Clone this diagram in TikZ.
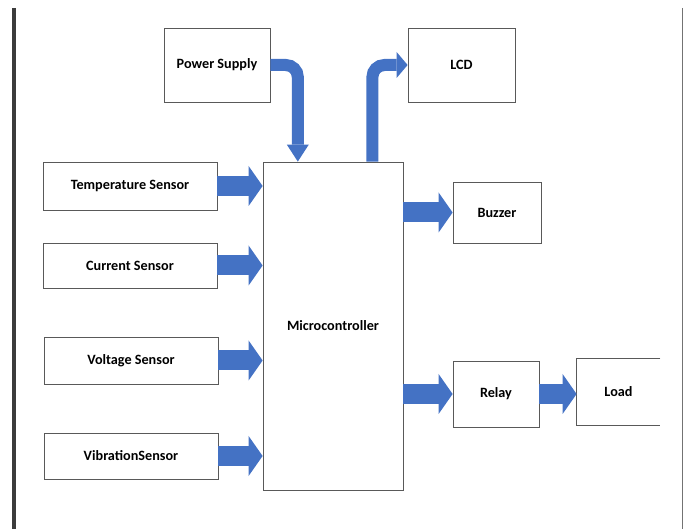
\documentclass[tikz,border=0pt]{standalone}
\usepackage{fontspec}
\setmainfont{Carlito}
\definecolor{arrowblue}{HTML}{4472C4}
\definecolor{framegray}{HTML}{3C3C3C}
\usetikzlibrary{arrows.meta, calc, positioning}

\begin{document}
\begin{tikzpicture}[x=1pt, y=-1pt,
	box/.style={draw=black!65, line width=0.8pt, fill=white, inner sep=0pt,
		font=\fontsize{14.2}{17}\selectfont\bfseries},
	blockarrow/.style={draw=arrowblue, line width=20pt,
		-{Triangle[length=14pt, width=40pt, line width=0pt]}},
	bentarrow/.style={draw=arrowblue, line width=12pt, rounded corners=12pt}]
	
	\useasboundingbox (0,0) rectangle (686,529);
	
	% Frame
	\draw[framegray, line width=3.5pt] (14,8) -- (14,529);
	\draw[black!55, line width=1pt] (682,8) -- (682,529);
	
	% Blocks
	\node[box, minimum width=140pt, minimum height=328pt] (mc) at (333,326) {Microcontroller};
	\node[box, minimum width=106pt, minimum height=74pt] (ps) at (217,65) {Power Supply};
	\node[box, minimum width=107pt, minimum height=74pt] (lcd) at (461.5,65) {LCD};
	\node[box, minimum width=174pt, minimum height=48pt] (temp) at (130,186) {Temperature Sensor};
	\node[box, minimum width=174pt, minimum height=45pt] (curr) at (130,265.5) {Current Sensor};
	\node[box, minimum width=174pt, minimum height=47pt] (volt) at (131,360.5) {Voltage Sensor};
	\node[box, minimum width=174pt, minimum height=46pt] (vib) at (131,456) {VibrationSensor};
	\node[box, minimum width=88pt, minimum height=61pt] (buz) at (497,212.5) {Buzzer};
	\node[box, minimum width=86pt, minimum height=66pt] (relay) at (496,394) {Relay};
	\node[box, draw=none, minimum width=83pt, minimum height=67pt] (load) at (618.5,392) {Load};
	\draw[black!65, line width=0.8pt] (load.north east) -- (load.north west) -- (load.south west) -- (load.south east);
	
	% Arrows
	\coordinate (psin) at ($(mc.north west)!0.25!(mc.north east)$);
	\coordinate (lcdout) at ($(mc.north west)!0.78!(mc.north east)$);
	\draw[bentarrow, -{Triangle[length=17pt, width=22pt, line width=0pt]}] (ps.east) -| (psin);
	\draw[bentarrow, -{Triangle[length=11pt, width=26pt, line width=0pt]}] (lcdout) |- (lcd.west);
	
	\foreach \s in {temp, curr, volt, vib}
	{
		\draw[blockarrow] (\s.east) -- (\s.east -| mc.west);
	}
	\draw[blockarrow] (mc.east |- buz.west) -- (buz.west);
	\draw[blockarrow] (mc.east |- relay.west) -- (relay.west);
	\draw[blockarrow] (relay.east) -- (relay.east -| load.west);
	
\end{tikzpicture}
\end{document}
